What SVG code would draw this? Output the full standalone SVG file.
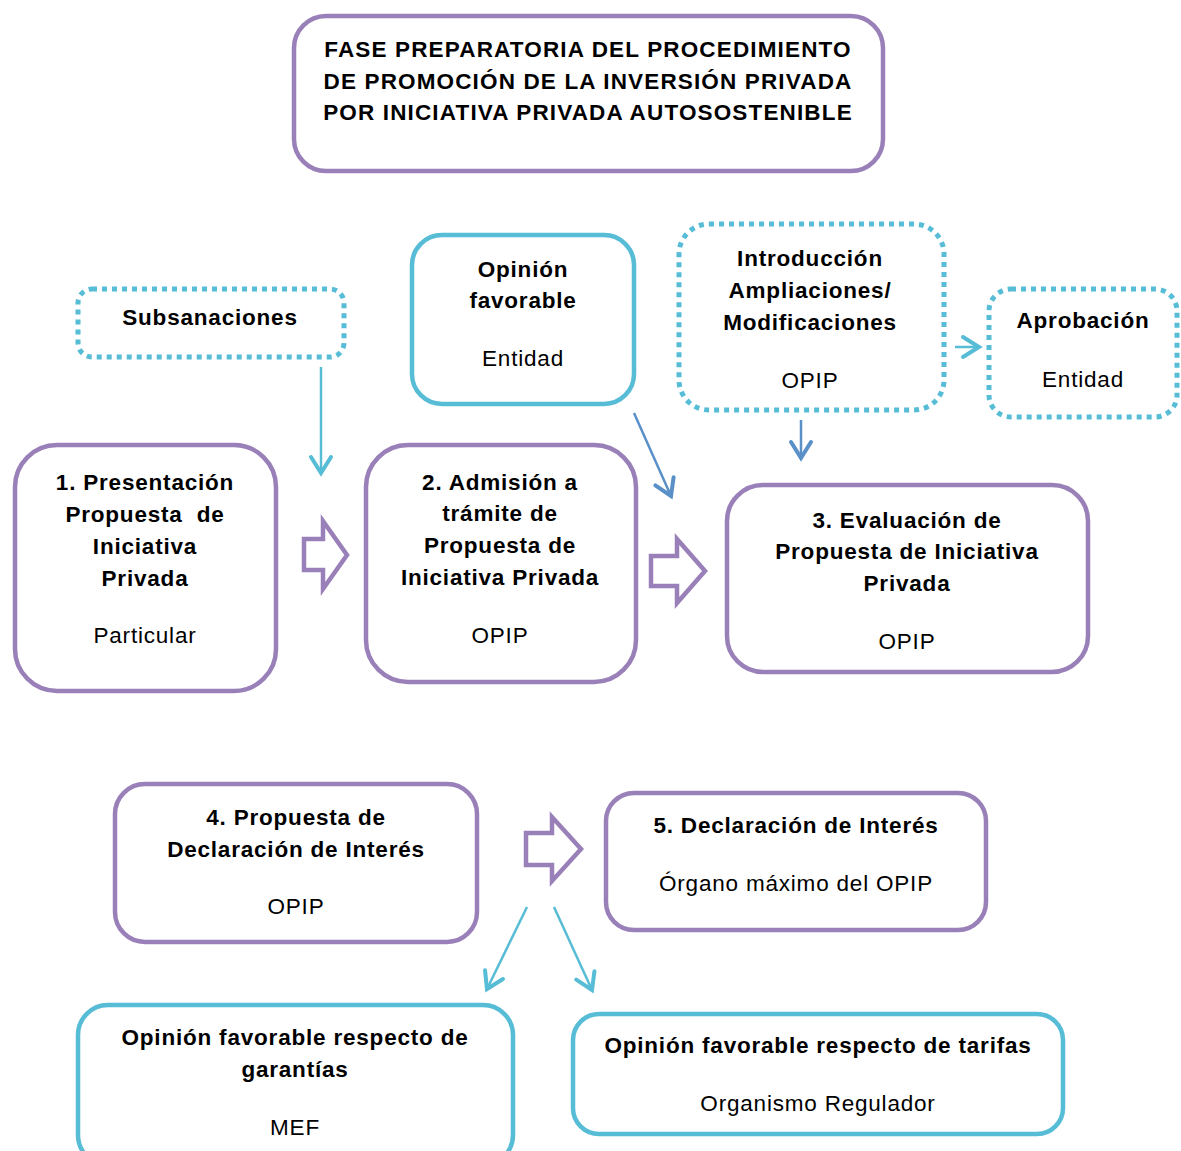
<svg xmlns="http://www.w3.org/2000/svg" width="1181" height="1151" viewBox="0 0 1181 1151">
  <style>
    text { font-family: "Liberation Sans", Arial, sans-serif; font-size: 22.5px; fill: #000; text-anchor: middle; letter-spacing: 0.8px; }
    .b { font-weight: bold; }
    .head { letter-spacing: 1.15px; }
    .step { fill: #fff; stroke: #9a80b8; stroke-width: 4.5; }
    .solid { fill: #fff; stroke: #57bcd5; stroke-width: 4.5; }
    .dot { fill: #fff; stroke: #57bcd5; stroke-width: 5; stroke-dasharray: 5 5; }
    .block { fill: #fff; stroke: #9a80b8; stroke-width: 4.5; stroke-linejoin: miter; }
    .cy { stroke: #57bcd5; stroke-width: 2.5; fill: none; }
    .bl { stroke: #5a90c8; stroke-width: 2.5; fill: none; }
  </style>
  <defs>
    <marker id="hc" markerUnits="userSpaceOnUse" viewBox="-20 -12 22 24" refX="0" refY="0" markerWidth="22" markerHeight="24" orient="auto" overflow="visible">
      <path d="M-16,-10 L0,0 L-16,10" fill="none" stroke="#57bcd5" stroke-width="4" stroke-linecap="round" stroke-linejoin="miter"/>
    </marker>
    <marker id="hb" markerUnits="userSpaceOnUse" viewBox="-20 -12 22 24" refX="0" refY="0" markerWidth="22" markerHeight="24" orient="auto" overflow="visible">
      <path d="M-16,-10 L0,0 L-16,10" fill="none" stroke="#5a90c8" stroke-width="4" stroke-linecap="round" stroke-linejoin="miter"/>
    </marker>
  </defs>

  <rect width="1181" height="1151" fill="#fff"/>

  <!-- header -->
  <g id="title">
    <rect class="step" x="294" y="16" width="589" height="155" rx="32"/>
    <text class="b head" x="588" y="57">FASE PREPARATORIA DEL PROCEDIMIENTO</text>
    <text class="b head" x="588" y="89">DE PROMOCIÓN DE LA INVERSIÓN PRIVADA</text>
    <text class="b head" x="588" y="120">POR INICIATIVA PRIVADA AUTOSOSTENIBLE</text>
  </g>

  <!-- side inputs -->
  <g id="subsanaciones">
    <rect class="dot" x="78" y="289" width="266" height="68" rx="14"/>
    <text class="b" x="210" y="325">Subsanaciones</text>
  </g>
  <g id="opinion-entidad">
    <rect class="solid" x="412" y="235" width="222" height="169" rx="30"/>
    <text class="b" x="523" y="277">Opinión</text>
    <text class="b" x="523" y="308">favorable</text>
    <text x="523" y="366">Entidad</text>
  </g>
  <g id="introduccion">
    <rect class="dot" x="679" y="224" width="265" height="186" rx="30"/>
    <text class="b" x="810" y="266">Introducción</text>
    <text class="b" x="810" y="298">Ampliaciones/</text>
    <text class="b" x="810" y="330">Modificaciones</text>
    <text x="810" y="388">OPIP</text>
  </g>
  <g id="aprobacion">
    <rect class="dot" x="989" y="289" width="188" height="128" rx="22"/>
    <text class="b" x="1083" y="328">Aprobación</text>
    <text x="1083" y="387">Entidad</text>
  </g>

  <!-- main steps -->
  <g id="step1">
    <rect class="step" x="15" y="445" width="261" height="246" rx="42"/>
    <text class="b" x="145" y="490">1. Presentación</text>
    <text class="b" x="145" y="522" xml:space="preserve">Propuesta  de</text>
    <text class="b" x="145" y="554">Iniciativa</text>
    <text class="b" x="145" y="586">Privada</text>
    <text x="145" y="643">Particular</text>
  </g>
  <g id="step2">
    <rect class="step" x="366" y="445" width="270" height="237" rx="42"/>
    <text class="b" x="500" y="490">2. Admisión a</text>
    <text class="b" x="500" y="521">trámite de</text>
    <text class="b" x="500" y="553">Propuesta de</text>
    <text class="b" x="500" y="585">Iniciativa Privada</text>
    <text x="500" y="643">OPIP</text>
  </g>
  <g id="step3">
    <rect class="step" x="727" y="485" width="361" height="187" rx="36"/>
    <text class="b" x="907" y="528">3. Evaluación de</text>
    <text class="b" x="907" y="559">Propuesta de Iniciativa</text>
    <text class="b" x="907" y="591">Privada</text>
    <text x="907" y="649">OPIP</text>
  </g>
  <g id="step4">
    <rect class="step" x="115" y="784" width="362" height="158" rx="30"/>
    <text class="b" x="296" y="825">4. Propuesta de</text>
    <text class="b" x="296" y="857">Declaración de Interés</text>
    <text x="296" y="914">OPIP</text>
  </g>
  <g id="step5">
    <rect class="step" x="606" y="793" width="380" height="137" rx="28"/>
    <text class="b" x="796" y="833">5. Declaración de Interés</text>
    <text x="796" y="891">Órgano máximo del OPIP</text>
  </g>

  <!-- opinions on step 4 -->
  <g id="opinion-mef">
    <rect class="solid" x="78" y="1005" width="435" height="160" rx="30"/>
    <text class="b" x="295" y="1045">Opinión favorable respecto de</text>
    <text class="b" x="295" y="1077">garantías</text>
    <text x="295" y="1135">MEF</text>
  </g>
  <g id="opinion-regulador">
    <rect class="solid" x="573" y="1014" width="490" height="120" rx="26"/>
    <text class="b" x="818" y="1053">Opinión favorable respecto de tarifas</text>
    <text x="818" y="1111">Organismo Regulador</text>
  </g>

  <!-- connectors -->
  <g id="connectors">
    <polygon class="block" points="304,539 323,539 323,521 347,555 323,589 323,570 304,570"/>
    <polygon class="block" points="651,556 677,556 677,539 705,571 677,603 677,586 651,586"/>
    <polygon class="block" points="526,833 552,833 552,817 581,849 552,881 552,865 526,865"/>
    <line class="cy" x1="321" y1="367" x2="321" y2="473" marker-end="url(#hc)"/>
    <line class="bl" x1="634" y1="413" x2="671" y2="496" marker-end="url(#hb)"/>
    <line class="bl" x1="801" y1="420" x2="801" y2="458" marker-end="url(#hb)"/>
    <line class="cy" x1="955" y1="347" x2="979" y2="347" marker-end="url(#hc)"/>
    <line class="cy" x1="527" y1="907" x2="487" y2="989" marker-end="url(#hc)"/>
    <line class="cy" x1="554" y1="907" x2="592" y2="990" marker-end="url(#hc)"/>
  </g>
</svg>
